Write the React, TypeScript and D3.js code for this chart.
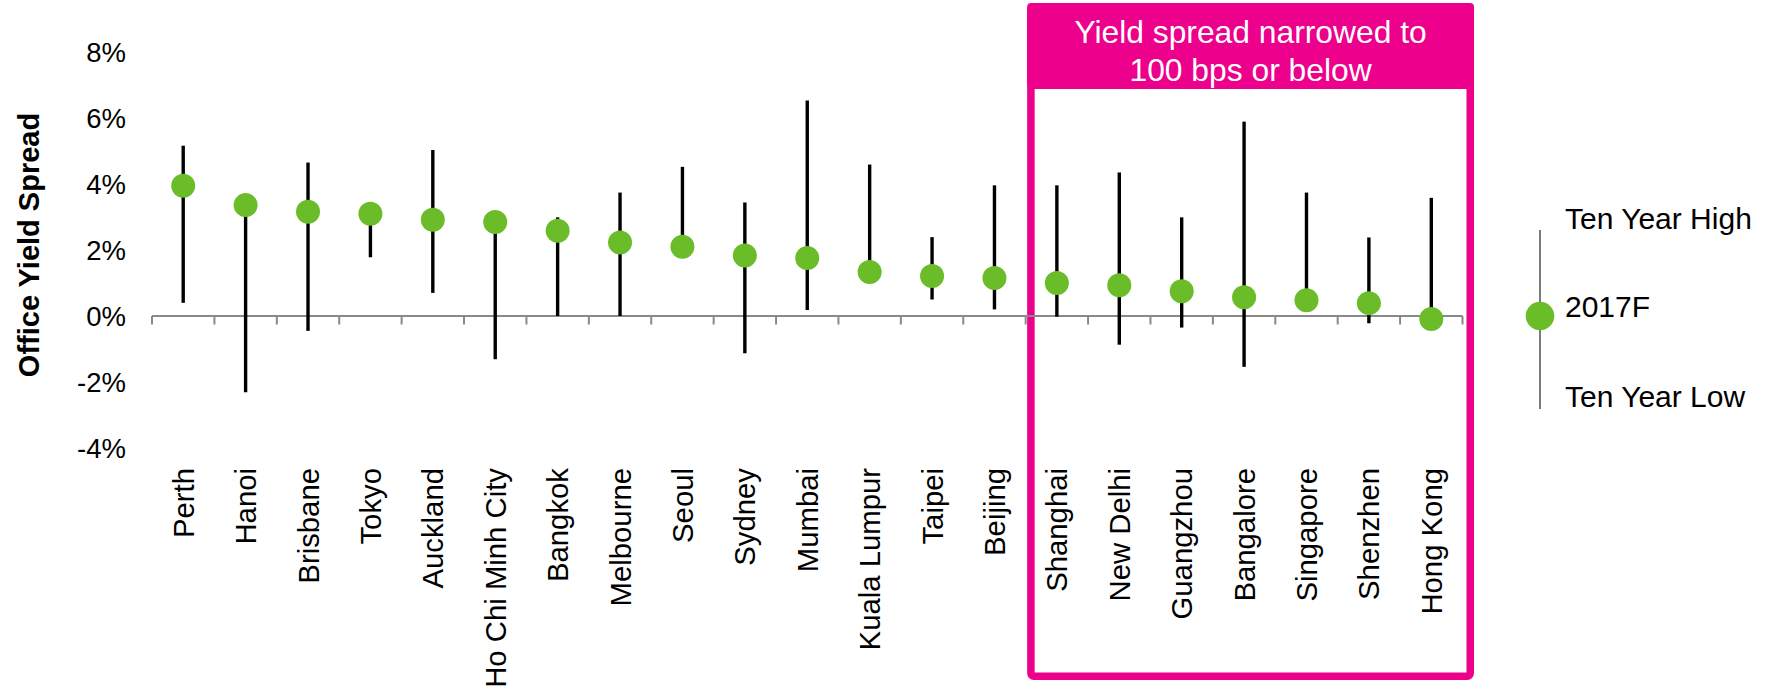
import React from "react";
import * as d3 from "d3";

// Office yield spread by city: 2017 forecast against the ten-year range (%)
const cities = [
  "Perth", "Hanoi", "Brisbane", "Tokyo", "Auckland", "Ho Chi Minh City", "Bangkok",
  "Melbourne", "Seoul", "Sydney", "Mumbai", "Kuala Lumpur", "Taipei", "Beijing",
  "Shanghai", "New Delhi", "Guangzhou", "Bangalore", "Singapore", "Shenzhen", "Hong Kong",
];
const forecast2017 = [
  3.95, 3.36, 3.16, 3.1, 2.92, 2.85, 2.58, 2.23, 2.1, 1.83, 1.76, 1.33, 1.21, 1.15,
  1.0, 0.93, 0.75, 0.57, 0.48, 0.39, -0.09,
];
const tenYearHigh = [
  5.16, 3.36, 4.65, 3.1, 5.03, 2.85, 2.99, 3.74, 4.52, 3.44, 6.53, 4.59, 2.39, 3.96,
  3.96, 4.35, 2.99, 5.89, 3.74, 2.38, 3.58,
];
const tenYearLow = [
  0.4, -2.31, -0.45, 1.78, 0.7, -1.31, 0.0, 0.0, 2.1, -1.13, 0.18, 1.33, 0.5, 0.2,
  -0.02, -0.87, -0.35, -1.54, 0.48, -0.22, -0.09,
];
const yTicks = [-4, -2, 0, 2, 4, 6, 8];
const highlightFrom = "Shanghai";
const highlightTitle = ["Yield spread narrowed to", "100 bps or below"];
const legendLabels = ["Ten Year High", "2017F", "Ten Year Low"];

const W = 1767;
const H = 687;
const GREEN = "#6abd28";
const MAGENTA = "#ec008c";
const FONT = "'Liberation Sans', Arial, sans-serif";

export default function App() {
  const x = d3.scaleBand<string>().domain(cities).range([152, 1462.5]).padding(0);
  const y = d3.scaleLinear().domain([-4, 8]).range([448, 52]);
  const cx = (c: string) => (x(c) as number) + x.bandwidth() / 2;
  const y0 = y(0);

  const boundaries = d3.range(cities.length + 1).map((i) => 152 + i * x.bandwidth());

  const boxL = (x(highlightFrom) as number) + 1.5;
  const boxR = 1474;
  const boxT = 3;
  const boxB = 680;
  const bw = 7.5;
  const headerB = 89;

  const legendX = 1540;
  const legendY = y0;

  return (
    <svg
      width={W}
      height={H}
      style={{ position: "absolute", left: 0, top: 0, background: "#fff" }}
      fontFamily={FONT}
    >
      {/* highlight box */}
      <rect x={boxL} y={boxT} width={boxR - boxL} height={headerB - boxT} rx={4} fill={MAGENTA} />
      <rect
        x={boxL + bw / 2}
        y={boxT + bw / 2}
        width={boxR - boxL - bw}
        height={boxB - boxT - bw}
        rx={3}
        fill="none"
        stroke={MAGENTA}
        strokeWidth={bw}
      />
      {highlightTitle.map((t, i) => (
        <text
          key={t}
          x={(boxL + boxR) / 2}
          y={42.5 + i * 38}
          textAnchor="middle"
          fill="#fff"
          fontSize={31.8}
        >
          {t}
        </text>
      ))}

      {/* y axis title */}
      <text
        transform={`translate(39,245) rotate(-90)`}
        textAnchor="middle"
        fontWeight="bold"
        fontSize={29}
        fill="#000"
      >
        Office Yield Spread
      </text>

      {/* y tick labels */}
      {yTicks.map((t) => (
        <text key={t} x={126} y={y(t) + 10} textAnchor="end" fontSize={27.5} fill="#000">
          {`${t}%`}
        </text>
      ))}

      {/* zero axis with category ticks */}
      <line x1={boundaries[0]} x2={boundaries[boundaries.length - 1]} y1={y0} y2={y0} stroke="#898989" strokeWidth={2} />
      {boundaries.map((b, i) => (
        <line key={i} x1={b} x2={b} y1={y0} y2={y0 + 8.5} stroke="#898989" strokeWidth={2} />
      ))}

      {/* high-low ranges */}
      {cities.map((c, i) => (
        <line
          key={c}
          x1={cx(c)}
          x2={cx(c)}
          y1={y(tenYearHigh[i])}
          y2={y(tenYearLow[i])}
          stroke="#000"
          strokeWidth={3.4}
        />
      ))}

      {/* 2017F markers */}
      {cities.map((c, i) => (
        <circle key={c} cx={cx(c)} cy={y(forecast2017[i])} r={12} fill={GREEN} />
      ))}

      {/* category labels */}
      {cities.map((c) => (
        <text
          key={c}
          transform={`translate(${cx(c)},468) rotate(-90)`}
          textAnchor="end"
          dy="0.36em"
          fontSize={29.3}
          fill="#000"
        >
          {c}
        </text>
      ))}

      {/* legend */}
      <line x1={legendX} x2={legendX} y1={230} y2={409} stroke="#333" strokeWidth={1.3} />
      <circle cx={legendX} cy={legendY} r={14.3} fill={GREEN} />
      {legendLabels.map((t, i) => (
        <text key={t} x={1565} y={[229, 317, 407][i]} fontSize={30} fill="#000">
          {t}
        </text>
      ))}
    </svg>
  );
}
